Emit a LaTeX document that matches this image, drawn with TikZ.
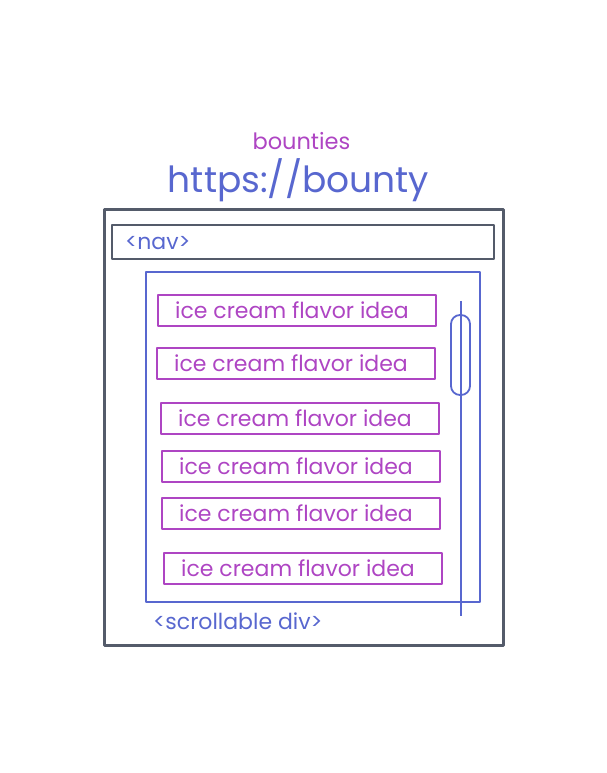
\documentclass[tikz,border=0pt]{standalone}
\usepackage{fontspec}
\setmainfont{Poppins}

\definecolor{sketchgray}{HTML}{545B6A}
\definecolor{sketchblue}{HTML}{5867CF}
\definecolor{sketchviolet}{HTML}{AE45C3}

\begin{document}
\begin{tikzpicture}[x=1pt,y=1pt,line join=round,
    frame/.style={draw=sketchgray,line width=2.2pt,rectangle},
    pane/.style={draw=sketchblue,line width=1.8pt,rectangle},
    idea/.style={draw=sketchviolet,line width=2pt,rectangle,
      minimum width=278pt,minimum height=31pt,inner sep=0pt,
      text=sketchviolet,font=\fontsize{22}{22}\selectfont},
    tag/.style={text=sketchblue,font=\fontsize{22}{22}\selectfont,inner sep=0pt,anchor=base west}]
    \useasboundingbox (0,0) rectangle (607,773);

    \node[frame,minimum width=399pt,minimum height=436pt] (window) at (304,345.5) {};
    \node[frame,line width=2pt,minimum width=382pt,minimum height=34pt] (nav) at (303,531) {};
    \node[tag] (navtag) at (125,523) {<nav>};
    \node[pane,minimum width=334pt,minimum height=330pt] (scroll) at (313,336) {};
    \node[tag] (scrolltag) at (153,143) {<scrollable div>};

    \node[text=sketchblue,font=\fontsize{36}{36}\selectfont,inner sep=0pt,anchor=base] (url) at (298.5,580) {https://bounty};
    \node[text=sketchviolet,font=\fontsize{22.5}{22.5}\selectfont,inner sep=0pt,anchor=base] (site) at (301.5,623) {bounties};

    \foreach \x/\y [count=\i] in {297/462.5,296/409.5,300/354.5,301/306.5,301/259.5,303/204.5}
      \node[idea] (item\i) at (\x,\y) {ice cream flavor idea\hspace*{10pt}};

    \coordinate (bartop) at (461,472);
    \coordinate (barend) at (461,157);
    \draw[sketchblue,line width=1.8pt] (bartop) -- (barend);
    \node[draw=sketchblue,line width=1.8pt,rounded corners=9pt,
      minimum width=19pt,minimum height=80pt,inner sep=0pt] (thumb) at (460.5,418) {};
\end{tikzpicture}
\end{document}
